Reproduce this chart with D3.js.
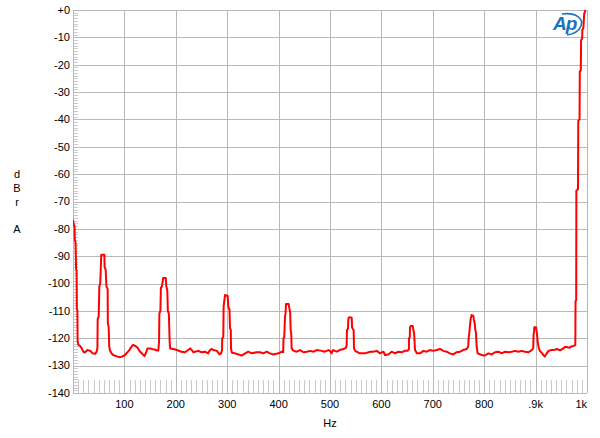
<!DOCTYPE html>
<html>
<head>
<meta charset="utf-8">
<script src="https://cdn.jsdelivr.net/npm/d3@7/dist/d3.min.js"></script>
<style>
body { margin: 0; background: #fff; }
svg { display: block; font-family: "Liberation Sans", Arial, sans-serif; }
</style>
</head>
<body>
<svg id="chart" width="600" height="438"></svg>
<script>
var yTicks = [0, -10, -20, -30, -40, -50, -60, -70, -80, -90, -100, -110, -120, -130, -140];
var yTickLabels = ['+0', '-10', '-20', '-30', '-40', '-50', '-60', '-70', '-80', '-90', '-100', '-110', '-120', '-130', '-140'];
var xTicks = [100, 200, 300, 400, 500, 600, 700, 800, 900, 1000];
var xTickLabels = ['100', '200', '300', '400', '500', '600', '700', '800', '.9k', '1k'];
var yAxisLetters = ['d', 'B', 'r', '', 'A'];

// [Hz, dBr]
var trace = [
	[0,-76.7],[1.5,-78.5],[3,-79],[3.5,-84],[5,-85],[6,-94.5],[7,-95.5],[7.5,-109],[8.5,-110],[9,-121],
	[10.4,-122.4],[13.6,-122.8],[17,-123.7],[20,-124.9],[23,-125.2],[28,-124.3],[32,-124.5],[35,-124.8],[38,-125.5],[43,-125.7],[46,-124.9],[47.5,-123.5],
	[48,-113],[50,-112],[51.2,-101],[53,-100],[55,-89.5],[61,-89.5],[61.5,-94],[63.6,-95],[65,-101],[67.4,-102],[67.8,-114.5],[69.4,-116],[70.5,-123],[72,-124.5],
	[75,-125.5],[78,-126.1],[84,-126.5],[90,-126.9],[95,-126.7],[100,-126.3],[105,-125.3],[110,-124.2],[114,-123],[117,-122.4],[121,-122.8],[125,-123.3],[130,-124.8],[134,-125.5],[139,-126.5],[142,-125.3],[145,-123.7],[150,-123.7],[155,-124],[159,-124.1],[163,-124.5],[166,-124.5],
	[167.5,-121],[168,-111],[170,-110],[171,-101.5],[173,-101],[175.5,-98],[180.5,-98],[181.5,-101],[183.5,-102.5],[184.5,-110],[186.5,-111],[188,-121],[189,-123.7],
	[195,-123.9],[202,-124.3],[211,-124.9],[218,-125.1],[224,-124.3],[228,-123.7],[231,-124.3],[234,-125.1],[237,-124.9],[244,-124.6],[250,-125.1],[257,-124.9],[263,-125.5],[266.5,-124.3],[270,-123.9],[273,-124.3],[280,-124.6],[285,-125.9],[288,-125.5],
	[290,-124.3],[290.3,-120],[292.4,-119.5],[293,-108.4],[295.7,-104.2],[300.9,-104.5],[302.2,-108.5],[304.5,-109.5],[305.4,-116.3],[307,-117],[307.4,-123.7],[309.3,-125.3],
	[315,-125.5],[322,-125.9],[328,-126.3],[335,-125.5],[341,-124.9],[348,-125.5],[357,-125.1],[364,-125.1],[370,-125.5],[377,-124.9],[383,-125.5],[390,-125.9],[400,-125.5],[406,-124.9],
	[409,-125],[409.5,-120],[411,-119.5],[412.5,-112],[413.5,-111],[414.4,-107.5],[419.6,-107.5],[420.9,-109],[422.5,-110.5],[423.5,-117],[424.5,-118],[425.4,-123.7],[428.6,-124.5],
	[435,-124.9],[442,-124.3],[448,-125.1],[455,-124.9],[461,-124.6],[468,-124.9],[474,-124.3],[484,-124.6],[490,-124.9],[497,-124.3],[500,-124.6],[503,-125.5],[506,-124.3],[513,-124.9],[519,-124.3],[526,-123.9],[531,-123.5],
	[532.4,-122.5],[533,-117],[535,-116.5],[535.7,-113],[537,-112.3],[542.2,-112.5],[543,-116],[544.1,-116.5],[546,-117],[546.7,-123.7],[549,-124.6],
	[558,-125.5],[568,-125.5],[578,-124.9],[584,-124.9],[591,-124.6],[597,-125.5],[604,-124.9],[607,-126.1],[613.5,-125.9],[620,-124.9],[626.5,-125.5],[633,-124.9],[639.4,-125.1],[646,-124.6],[651,-124.6],
	[653.5,-124],[653.7,-120],[655.3,-119.5],[655.6,-116],[657,-115.5],[660.9,-115.5],[662.2,-117],[663.5,-118],[664.2,-120],[665.4,-124.3],
	[669,-125.5],[675,-125.5],[682,-124.6],[688,-124.9],[694.5,-124.3],[701,-124.6],[707.5,-124.3],[714,-123.9],[720.5,-124.6],[727,-124.9],[733,-125.5],[740,-125.9],[746,-125.1],[753,-124.9],[759,-124.3],[766,-123.9],
	[768,-123.3],[769.1,-122.5],[769.5,-120.5],[771,-118],[772,-116],[773.6,-113],[775.5,-111.5],[778.8,-111.8],[780.1,-113.3],[781.5,-114.5],[782.7,-117],[784,-118],[785.3,-123],[787.2,-125.5],
	[795,-126.1],[801.5,-126.3],[808,-125.5],[814.5,-125.9],[821,-125.1],[827.5,-124.9],[834,-125.5],[840.5,-124.9],[847,-125.1],[853.4,-124.9],[860,-124.6],[866.4,-124.9],[873,-124.6],[879.4,-124.9],[886,-125.1],[892.4,-124.3],[895.3,-123.7],
	[896,-119],[896.9,-117.5],[897.5,-116],[900.8,-116],[902.1,-117.6],[903,-119],[904,-121.2],[906,-123.5],[908.6,-124.7],[912,-125.3],[915,-126.1],[918,-126.7],[921,-125.7],[925,-124.6],[931,-124.3],[938,-124.2],[941,-123.9],[947.5,-124.4],[954,-123.7],[957,-123.2],[960.5,-123.2],[966,-123.5],[969,-123],[973.5,-122.8],[977.3,-122.5],
	[977.7,-106.5],[979,-106],[979.3,-66],[982.5,-65.5],[983,-40.5],[985.5,-40],[986,-22.5],[988,-22],[988.5,-11],[990.5,-10.5],[991,-7.3],[993,-6.5],[994.5,-1.5],[997,0]
];

var svg = d3.select("svg#chart"),
    margin = {top: 10, right: 13, bottom: 45, left: 73},
    width = +svg.attr("width") - margin.left - margin.right,
    height = +svg.attr("height") - margin.top - margin.bottom,
    g = svg.append("g").attr("transform", "translate(" + margin.left + "," + margin.top + ")");

var x = d3.scaleLinear().domain([0, 1000]).range([0, width]),
    y = d3.scaleLinear().domain([-140, 0]).range([height, 0]);

var gridColor = "#b8b8b8",
    minorColor = "#c9c9c9";

// minor ticks, left edge every 1 dB and bottom every 10 Hz
g.append("g")
	.selectAll("line")
	.data(d3.range(-140, 1, 1))
	.enter().append("line")
	.attr("x1", 0)
	.attr("x2", 5)
	.attr("y1", d => Math.round(y(d)) + 0.5)
	.attr("y2", d => Math.round(y(d)) + 0.5)
	.attr("stroke", minorColor);

g.append("g")
	.selectAll("line")
	.data(d3.range(10, 1000, 10))
	.enter().append("line")
	.attr("x1", d => Math.round(x(d)) + 0.5)
	.attr("x2", d => Math.round(x(d)) + 0.5)
	.attr("y1", height - 13)
	.attr("y2", height)
	.attr("stroke", minorColor);

// grid
g.append("g")
	.selectAll("line")
	.data(yTicks)
	.enter().append("line")
	.attr("x1", 0)
	.attr("x2", width)
	.attr("y1", d => Math.round(y(d)) + 0.5)
	.attr("y2", d => Math.round(y(d)) + 0.5)
	.attr("stroke", gridColor);

g.append("g")
	.selectAll("line")
	.data([0].concat(xTicks))
	.enter().append("line")
	.attr("x1", d => Math.round(x(d)) + 0.5)
	.attr("x2", d => Math.round(x(d)) + 0.5)
	.attr("y1", 0)
	.attr("y2", height)
	.attr("stroke", gridColor);

// y tick labels
g.append("g")
	.selectAll("text")
	.data(yTicks)
	.enter().append("text")
	.attr("x", -3)
	.attr("y", d => y(d))
	.attr("dy", "0.35em")
	.attr("text-anchor", "end")
	.style("font-size", "11px")
	.attr("fill", "#000")
	.text((d, i) => yTickLabels[i]);

// x tick labels, last one pulled inside the frame
g.append("g")
	.selectAll("text")
	.data(xTicks)
	.enter().append("text")
	.attr("x", d => x(d))
	.attr("y", height + 15)
	.attr("text-anchor", d => d === 1000 ? "end" : "middle")
	.style("font-size", "11px")
	.attr("fill", "#000")
	.text((d, i) => xTickLabels[i]);

svg.append("text")
	.attr("x", margin.left + width / 2)
	.attr("y", 427)
	.attr("text-anchor", "middle")
	.style("font-size", "11px")
	.text("Hz");

svg.append("g")
	.selectAll("text")
	.data(yAxisLetters)
	.enter().append("text")
	.attr("x", 17)
	.attr("y", (d, i) => 178 + i * 13.8)
	.attr("text-anchor", "middle")
	.style("font-size", "11px")
	.text(d => d);

// Ap logo
var logo = svg.append("g").attr("transform", "translate(552,13)");
logo.append("text")
	.attr("x", 1)
	.attr("y", 17)
	.style("font-size", "19px")
	.style("font-style", "italic")
	.style("font-weight", "bold")
	.attr("fill", "#1a73bb")
	.attr("letter-spacing", "-1px")
	.text("Ap");
logo.append("path")
	.attr("d", "M10,1 C24,-1 32,6 29,13 C27,18 22,21 15,22")
	.attr("fill", "none")
	.attr("stroke", "#1a73bb")
	.attr("stroke-width", 1.6);

// trace
g.append("clipPath")
	.attr("id", "plot-clip")
	.append("rect")
	.attr("x", 0)
	.attr("y", -1)
	.attr("width", width + 1)
	.attr("height", height + 1);

var line = d3.line()
	.x(d => x(d[0]))
	.y(d => y(d[1]));

g.append("path")
	.datum(trace)
	.attr("clip-path", "url(#plot-clip)")
	.attr("fill", "none")
	.attr("stroke", "#ff0000")
	.attr("stroke-width", 2)
	.attr("stroke-linejoin", "round")
	.attr("d", line);
</script>
</body>
</html>
